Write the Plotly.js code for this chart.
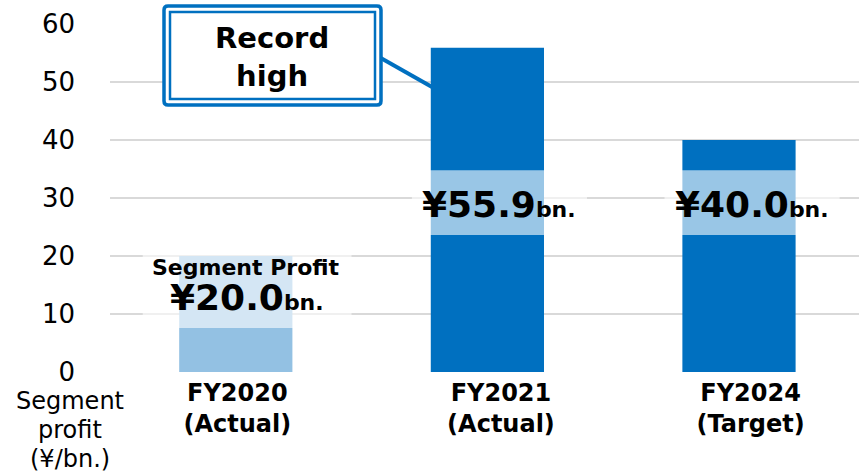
<!DOCTYPE html>
<html>
<head>
<meta charset="utf-8">
<script src="https://cdn.plot.ly/plotly-3.0.1.min.js"></script>
<style>html,body{margin:0;padding:0;background:#fff;}#chart{width:859px;height:473px;}</style>
</head>
<body>
<div id="chart"></div>
<script>
const categories = ["FY2020<br>(Actual)", "FY2021<br>(Actual)", "FY2024<br>(Target)"];
const profitValues = [20.0, 55.9, 40.0];
const valueLabels = ["¥20.0", "¥55.9", "¥40.0"];
const barColors = ["#93C1E3", "#0070C0", "#0070C0"];
const yTicks = [0, 10, 20, 30, 40, 50, 60];
const yTitleLines = ["Segment", "profit", "(¥/bn.)"];

const FONT = "DejaVu Sans, Verdana, sans-serif";

const trace = {
  type: "bar",
  x: [0, 1, 2],
  y: profitValues,
  marker: {color: barColors, line: {width: 0}},
  width: 0.45,
  hoverinfo: "skip"
};

// label band boxes (semi-transparent white)
const bands = [
  {x0: -0.37, x1: 0.46, y0: 7.6, y1: 22},
  {x0: 0.70, x1: 1.396, y0: 23.6, y1: 34.8},
  {x0: 1.704, x1: 2.40, y0: 23.6, y1: 34.8}
];
const shapes = bands.map(b => ({
  type: "rect", xref: "x", yref: "y", x0: b.x0, x1: b.x1, y0: b.y0, y1: b.y1,
  fillcolor: "rgba(255,255,255,0.6)", line: {width: 0}, layer: "above"
}));

// callout box (paper coordinates)
const px = v => (v - 110) / 749;
const py = v => (372 - v) / 348;
function roundRect(x0, y0, x1, y1, r) {
  const rx = r / 749, ry = r / 348;
  const X0 = px(x0), X1 = px(x1), Y0 = py(y0), Y1 = py(y1);
  return `M ${X0 + rx},${Y0} L ${X1 - rx},${Y0} Q ${X1},${Y0} ${X1},${Y0 - ry} ` +
         `L ${X1},${Y1 + ry} Q ${X1},${Y1} ${X1 - rx},${Y1} L ${X0 + rx},${Y1} ` +
         `Q ${X0},${Y1} ${X0},${Y1 + ry} L ${X0},${Y0 - ry} Q ${X0},${Y0} ${X0 + rx},${Y0} Z`;
}
shapes.push({type: "line", xref: "paper", yref: "paper",
  x0: px(379), y0: py(57), x1: px(432), y1: py(87),
  line: {color: "#0070C0", width: 4}});
shapes.push({type: "path", xref: "paper", yref: "paper",
  path: roundRect(164, 6, 381, 105, 4),
  fillcolor: "#ffffff", line: {color: "#0070C0", width: 3.5}});
shapes.push({type: "rect", xref: "paper", yref: "paper",
  x0: px(170), x1: px(375), y0: py(12), y1: py(99),
  fillcolor: "rgba(0,0,0,0)", line: {color: "#0070C0", width: 2.5}});

const labelPos = [
  {x: 0.046, y: 12.9},
  {x: 1.048, y: 28.8},
  {x: 2.052, y: 28.8}
];
const annotations = valueLabels.map((t, i) => ({
  xref: "x", yref: "y", x: labelPos[i].x, y: labelPos[i].y,
  text: "<b>" + t + "<span style='font-size:22px'>bn.</span></b>",
  showarrow: false, font: {family: FONT, size: 36, color: "#000"},
  xanchor: "center", yanchor: "middle"
}));
annotations.push({
  xref: "x", yref: "y", x: 0.04, y: 18.0,
  text: "<b>Segment Profit</b>", showarrow: false,
  font: {family: FONT, size: 22, color: "#000"}, xanchor: "center", yanchor: "middle"
});
annotations.push({
  xref: "paper", yref: "paper", x: px(271.5), y: py(57),
  text: "<b>Record<br>high</b>", showarrow: false,
  font: {family: FONT, size: 29, color: "#000"}, xanchor: "center", yanchor: "middle"
});
const titleY = [401, 430, 459];
yTitleLines.forEach((t, i) => annotations.push({
  xref: "paper", yref: "paper", x: px(70), y: py(titleY[i]),
  text: t, showarrow: false,
  font: {family: FONT, size: 24, color: "#000"}, xanchor: "center", yanchor: "middle"
}));

const layout = {
  width: 859, height: 473,
  margin: {l: 110, r: 0, t: 24, b: 101},
  paper_bgcolor: "#fff", plot_bgcolor: "#fff",
  showlegend: false,
  xaxis: {
    range: [-0.5, 2.477], tickvals: [0.006, 1.054, 2.046], ticktext: categories,
    showgrid: false, zeroline: false, showline: false, ticks: "",
    tickfont: {family: FONT, size: 24, color: "#000", weight: "bold"},
    ticklabelstandoff: 4,
    fixedrange: true
  },
  yaxis: {
    range: [0, 60], tickvals: yTicks, showgrid: true, gridcolor: "#D9D9D9", gridwidth: 2,
    zeroline: false, showline: false, ticks: "",
    tickfont: {family: FONT, size: 26, color: "#000"},
    ticklabelstandoff: 34, fixedrange: true
  },
  shapes: shapes,
  annotations: annotations,
  bargap: 0.55
};

Plotly.newPlot("chart", [trace], layout, {displayModeBar: false, staticPlot: true});
</script>
</body>
</html>
